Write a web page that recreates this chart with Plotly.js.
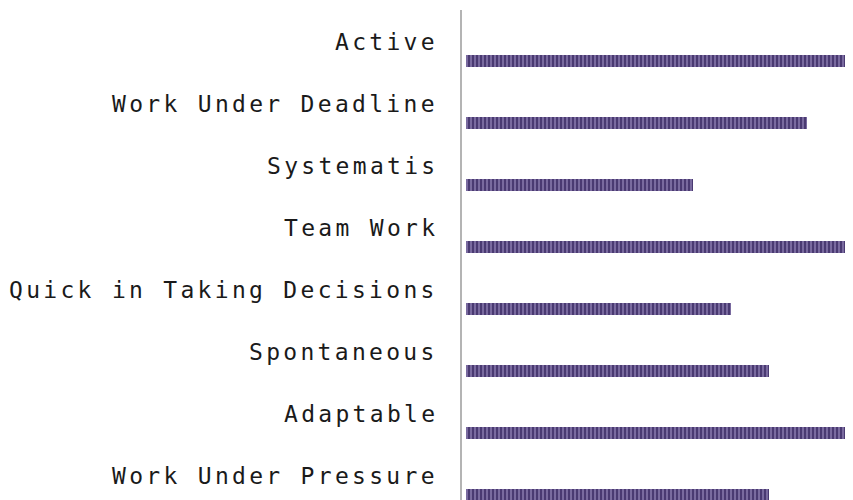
<!DOCTYPE html>
<html>
<head>
<meta charset="utf-8">
<script src="https://cdn.plot.ly/plotly-3.0.1.min.js"></script>
<style>
  html, body { margin: 0; padding: 0; background: #ffffff; }
  #chart { width: 853px; height: 500px; }
  text.annotation-text { letter-spacing: 3.3px; }
</style>
</head>
<body>
<div id="chart"></div>
<script>
// Data
const categories = [
  "Active",
  "Work Under Deadline",
  "Systematis",
  "Team Work",
  "Quick in Taking Decisions",
  "Spontaneous",
  "Adaptable",
  "Work Under Pressure"
];
const values = [100, 90, 60, 100, 70, 80, 100, 80];

const positions = categories.map((c, i) => i);

const trace = {
  type: 'bar',
  orientation: 'h',
  x: values,
  y: positions,
  width: 0.19,
  hoverinfo: 'skip',
  marker: {
    color: '#4b3b74',
    line: { width: 0 },
    pattern: {
      shape: '|',
      bgcolor: '#4a3a72',
      fgcolor: '#a99bcc',
      size: 4,
      solidity: 0.25
    }
  }
};

const annotations = categories.map((c, i) => ({
  text: c,
  xref: 'paper',
  yref: 'y',
  x: -0.054,
  y: positions[i],
  xanchor: 'right',
  yanchor: 'middle',
  yshift: 19,
  showarrow: false,
  font: { family: 'DejaVu Sans Mono, monospace', size: 23, color: '#1a1a1a' }
}));

const layout = {
  width: 853,
  height: 500,
  margin: { l: 461, r: 8, t: 0, b: 0, pad: 0 },
  paper_bgcolor: '#ffffff',
  plot_bgcolor: '#ffffff',
  showlegend: false,
  bargap: 0,
  xaxis: {
    range: [-1.32, 100],
    showgrid: false,
    zeroline: false,
    showline: false,
    showticklabels: false,
    ticks: ''
  },
  yaxis: {
    range: [7.08, -0.984],
    showgrid: false,
    zeroline: false,
    showline: false,
    showticklabels: false,
    ticks: ''
  },
  shapes: [{
    type: 'line',
    xref: 'paper', yref: 'paper',
    x0: 0, x1: 0, y0: 0, y1: 0.98,
    line: { color: '#b4b4b4', width: 2 }
  }],
  annotations: annotations
};

Plotly.newPlot('chart', [trace], layout, { displayModeBar: false, staticPlot: true });
</script>
</body>
</html>
